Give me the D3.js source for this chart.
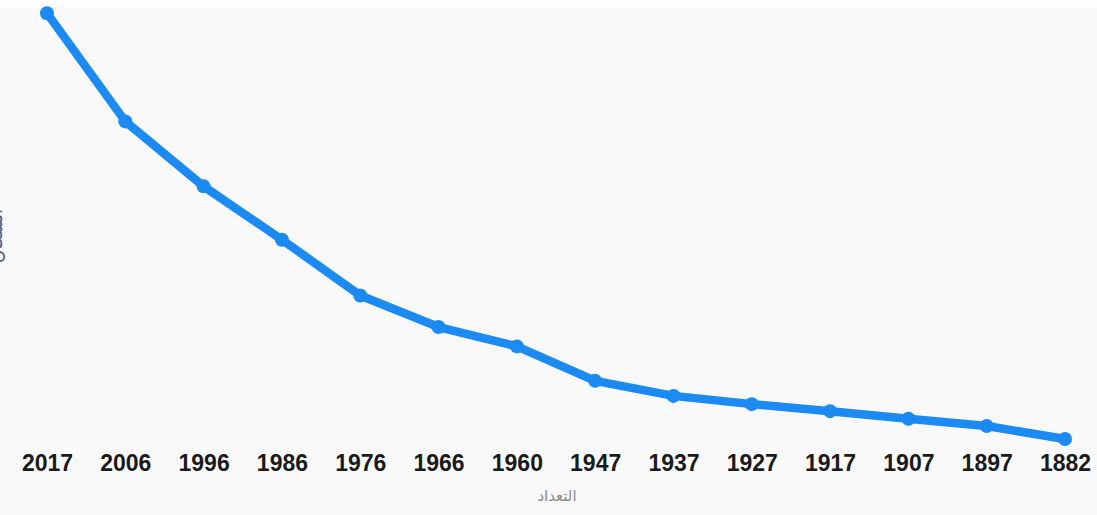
<!DOCTYPE html>
<html><head><meta charset="utf-8">
<script src="https://cdn.jsdelivr.net/npm/d3@7"></script>
<style>html,body{margin:0;padding:0;background:#fff;overflow:hidden}</style>
</head><body>
<svg id="c" width="1097" height="515"></svg>
<script>
const years = ["2017","2006","1996","1986","1976","1966","1960","1947","1937","1927","1917","1907","1897","1882"];
const population = [94.8, 72.5, 59.1, 48.1, 36.6, 30.1, 26.1, 19.0, 15.9, 14.2, 12.75, 11.2, 9.7, 7.0];
const xTitle = "التعداد";

const svg = d3.select("#c");
svg.append("rect").attr("x",0).attr("y",0).attr("width",1097).attr("height",515).attr("fill","#fff");
svg.append("rect").attr("x",0).attr("y",7).attr("width",1097).attr("height",508).attr("fill","#f9f9f9");

const x = d3.scalePoint().domain(years).range([47, 1065]);
const y = d3.scaleLinear().domain([0, 100]).range([473, -12]);

const line = d3.line().x((d,i)=>x(years[i])).y(d=>y(d));
svg.append("path").datum(population).attr("d", line)
  .attr("fill","none").attr("stroke","#1b8af2").attr("stroke-width",8.5)
  .attr("stroke-linejoin","round").attr("stroke-linecap","round");
svg.selectAll("circle.pt").data(population).join("circle").attr("class","pt")
  .attr("cx",(d,i)=>x(years[i])).attr("cy",d=>y(d)).attr("r",7).attr("fill","#1b8af2");

const ax = svg.append("g").attr("transform","translate(0,449)")
  .call(d3.axisBottom(x).tickSize(0).tickPadding(0));
ax.select(".domain").remove();
ax.selectAll("text").attr("font-family","Liberation Sans, Arial, sans-serif")
  .attr("font-weight","bold").attr("font-size",23).attr("fill","#1a1a1a").attr("dy","0.95em");

svg.append("text").attr("x",557).attr("y",501).attr("text-anchor","middle")
  .attr("font-family","DejaVu Sans, sans-serif").attr("font-size",15).attr("fill","#8a8a8a").text(xTitle);

svg.append("text").attr("transform","translate(2,236) rotate(-90)").attr("text-anchor","middle")
  .attr("font-family","Liberation Sans, Arial, sans-serif").attr("font-size",18).attr("fill","#4a5a8a").text("السكان");
</script>
</body></html>
